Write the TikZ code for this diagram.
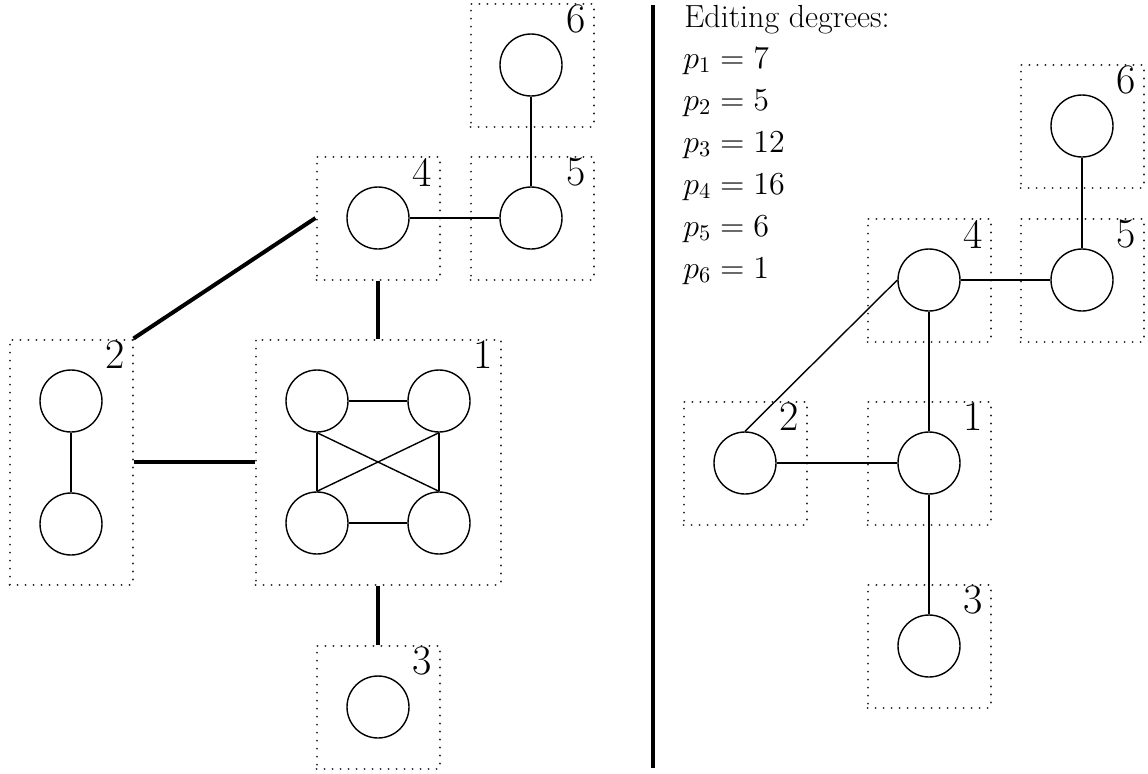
\documentclass[tikz,border=0pt]{standalone}
\usepackage{fix-cm}
\usepackage{amsmath}
\usepackage{amssymb}

\begin{document}
\begin{tikzpicture}[x = 0.5pt, y = -0.5pt,
        vert/.style = {draw, circle, line width = 0.7pt, minimum size = 31pt, inner sep = 0pt},
        grp/.style = {draw = black!85, line width = 1pt, line cap = round, dash pattern = on 0.01pt off 3.99pt, minimum width = 61.5pt, minimum height = 61.5pt, inner sep = 0pt},
        num/.style = {anchor = north east, inner xsep = 4pt, inner ysep = 1pt, font = \fontsize{21}{25}\selectfont},
        txt/.style = {anchor = base west, inner sep = 0pt, font = \fontsize{16}{19}\selectfont},
        link/.style = {line width = 0.7pt},
        bond/.style = {line width = 2pt}]
        \useasboundingbox (0, 0) rectangle (1148, 773);
        % left: groups
        \node[grp] (L6) at (532, 65) {};
        \node[grp] (L5) at (532, 218) {};
        \node[grp] (L4) at (378, 218) {};
        \node[grp, minimum height = 122.5pt] (L2) at (71, 462) {};
        \node[grp, minimum width = 122.5pt, minimum height = 122.5pt] (L1) at (378, 462) {};
        \node[grp] (L3) at (378, 707) {};
        \foreach \g in {1, ..., 6}
            \node[num] (nL\g) at (L\g.north east) {\g};
        % left: vertices
        \node[vert] (l6) at (531, 65) {};
        \node[vert] (l5) at (531, 218) {};
        \node[vert] (l4) at (378, 218) {};
        \node[vert] (l3) at (378, 707) {};
        \node[vert] (l2a) at (71, 401) {};
        \node[vert] (l2b) at (71, 524) {};
        \node[vert] (l1a) at (317, 401) {};
        \node[vert] (l1b) at (439, 401) {};
        \node[vert] (l1c) at (317, 523) {};
        \node[vert] (l1d) at (439, 523) {};
        \draw[link] (l4) -- (l5);
        \draw[link] (l5) -- (l6);
        \draw[link] (l2a) -- (l2b);
        \draw[link] (l1a) -- (l1b);
        \draw[link] (l1c) -- (l1d);
        \draw[link] (l1a) -- (l1c);
        \draw[link] (l1b) -- (l1d);
        \draw[link] (l1a.south) -- (l1d.north);
        \draw[link] (l1b.south) -- (l1c.north);
        \draw[bond] (L2.north east) -- (L4.west);
        \draw[bond] (L2.east) -- (L1.west);
        \draw[bond] (L4.south) -- (L1.north);
        \draw[bond] (L1.south) -- (L3.north);
        % divider
        \coordinate (top) at (653, 5);
        \coordinate (bot) at (653, 768);
        \draw[bond] (top) -- (bot);
        % right: degrees
        \node[txt] (title) at (684, 27) {Editing degrees:};
        \foreach \i/\v in {1/7, 2/5, 3/12, 4/16, 5/6, 6/1}
            \node[txt] (p\i) at (683, 26 + 42*\i) {$p_{\i} = \v$};
        % right: groups
        \node[grp] (R6) at (1082, 126) {};
        \node[grp] (R5) at (1082, 280) {};
        \node[grp] (R4) at (929, 280) {};
        \node[grp] (R1) at (929, 463) {};
        \node[grp] (R2) at (745, 463) {};
        \node[grp] (R3) at (929, 646) {};
        \foreach \g in {1, ..., 6}
            \node[num] (nR\g) at (R\g.north east) {\g};
        % right: vertices
        \foreach \g in {1, ..., 6}
            \node[vert] (r\g) at (R\g) {};
        \draw[link] (r4) -- (r5);
        \draw[link] (r5) -- (r6);
        \draw[link] (r4) -- (r1);
        \draw[link] (r1) -- (r2);
        \draw[link] (r1) -- (r3);
        \draw[link] (r2.north) -- (r4.west);
    \end{tikzpicture}
\end{document}
